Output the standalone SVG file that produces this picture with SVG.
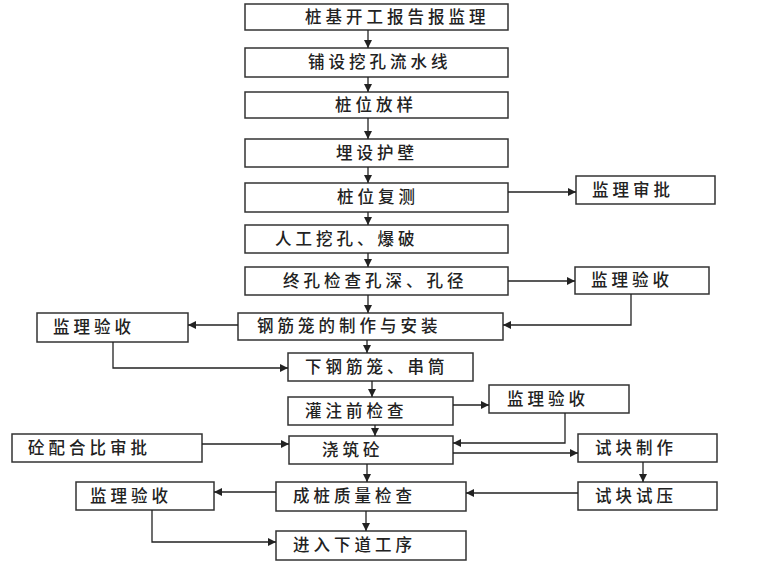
<svg xmlns="http://www.w3.org/2000/svg" width="760" height="570" viewBox="0 0 760 570">
<defs>
<marker id="ah" viewBox="0 0 10 10" refX="10" refY="5" markerWidth="9" markerHeight="8" markerUnits="userSpaceOnUse" orient="auto">
<path d="M0,0 L10,5 L0,10 z" fill="#222"/>
</marker>
<style>
.box{fill:#fff;stroke:#333;stroke-width:1.5}
.t{font-family:"Noto Sans CJK SC","Noto Sans",sans-serif;font-size:16.5px;letter-spacing:4px;fill:#222;font-weight:500}
.c{fill:none;stroke:#222;stroke-width:1.3;marker-end:url(#ah)}
</style>
</defs>
<rect width="760" height="570" fill="#fff"/>
<g id="n1"><rect class="box" x="245" y="4" width="263" height="26"/><text class="t" x="305" y="23">桩基开工报告报监理</text></g>
<g id="n2"><rect class="box" x="245" y="48" width="263" height="29"/><text class="t" x="308" y="68">铺设挖孔流水线</text></g>
<g id="n3"><rect class="box" x="245" y="92" width="263" height="26"/><text class="t" x="335" y="111">桩位放样</text></g>
<g id="n4"><rect class="box" x="245" y="139" width="263" height="28"/><text class="t" x="336" y="159">埋设护壁</text></g>
<g id="n5"><rect class="box" x="245" y="183" width="263" height="29"/><text class="t" x="337" y="203">桩位复测</text></g>
<g id="n5a"><rect class="box" x="576" y="176" width="139" height="28"/><text class="t" x="592" y="196">监理审批</text></g>
<g id="n6"><rect class="box" x="245" y="225" width="263" height="28"/><text class="t" x="275" y="245">人工挖孔、爆破</text></g>
<g id="n7"><rect class="box" x="245" y="267" width="263" height="28"/><text class="t" x="283" y="287">终孔检查孔深、孔径</text></g>
<g id="n7a"><rect class="box" x="575" y="267" width="134" height="27"/><text class="t" x="591" y="286">监理验收</text></g>
<g id="n8"><rect class="box" x="238" y="313" width="265" height="27"/><text class="t" x="257" y="332">钢筋笼的制作与安装</text></g>
<g id="n8a"><rect class="box" x="37" y="313" width="151" height="29"/><text class="t" x="53" y="333">监理验收</text></g>
<g id="n9"><rect class="box" x="288" y="353" width="185" height="28"/><text class="t" x="305" y="373">下钢筋笼、串筒</text></g>
<g id="n10"><rect class="box" x="288" y="397" width="165" height="28"/><text class="t" x="305" y="417">灌注前检查</text></g>
<g id="n10a"><rect class="box" x="489" y="385" width="140" height="28"/><text class="t" x="507" y="405">监理验收</text></g>
<g id="n11"><rect class="box" x="289" y="436" width="164" height="28"/><text class="t" x="322" y="456">浇筑砼</text></g>
<g id="n11a"><rect class="box" x="12" y="434" width="190" height="28"/><text class="t" x="28" y="454">砼配合比审批</text></g>
<g id="n11b"><rect class="box" x="578" y="434" width="139" height="28"/><text class="t" x="595" y="454">试块制作</text></g>
<g id="n12"><rect class="box" x="276" y="482" width="190" height="29"/><text class="t" x="293" y="502">成桩质量检查</text></g>
<g id="n12a"><rect class="box" x="76" y="482" width="138" height="28"/><text class="t" x="90" y="502">监理验收</text></g>
<g id="n12b"><rect class="box" x="578" y="482" width="139" height="28"/><text class="t" x="595" y="502">试块试压</text></g>
<g id="n13"><rect class="box" x="276" y="531" width="190" height="29"/><text class="t" x="293" y="551">进入下道工序</text></g>
<g id="connectors">
<path class="c" d="M368,30 V48"/>
<path class="c" d="M368,77 V92"/>
<path class="c" d="M368,118 V139"/>
<path class="c" d="M368,167 V183"/>
<path class="c" d="M368,212 V225"/>
<path class="c" d="M368,253 V267"/>
<path class="c" d="M368,295 V313"/>
<path class="c" d="M367,340 V353"/>
<path class="c" d="M372,381 V397"/>
<path class="c" d="M375,425 V436"/>
<path class="c" d="M367,464 V482"/>
<path class="c" d="M366,511 V531"/>
<path class="c" d="M508,192 H576"/>
<path class="c" d="M508,281 H575"/>
<path class="c" d="M631,294 V325 H503"/>
<path class="c" d="M238,325 H188"/>
<path class="c" d="M113,342 V368 H288"/>
<path class="c" d="M453,405 H489"/>
<path class="c" d="M565,413 V443 H453"/>
<path class="c" d="M453,453 H578"/>
<path class="c" d="M202,444 H289"/>
<path class="c" d="M643,462 V482"/>
<path class="c" d="M578,493 H466"/>
<path class="c" d="M276,492 H214"/>
<path class="c" d="M152,510 V542 H276"/>
</g>
</svg>
